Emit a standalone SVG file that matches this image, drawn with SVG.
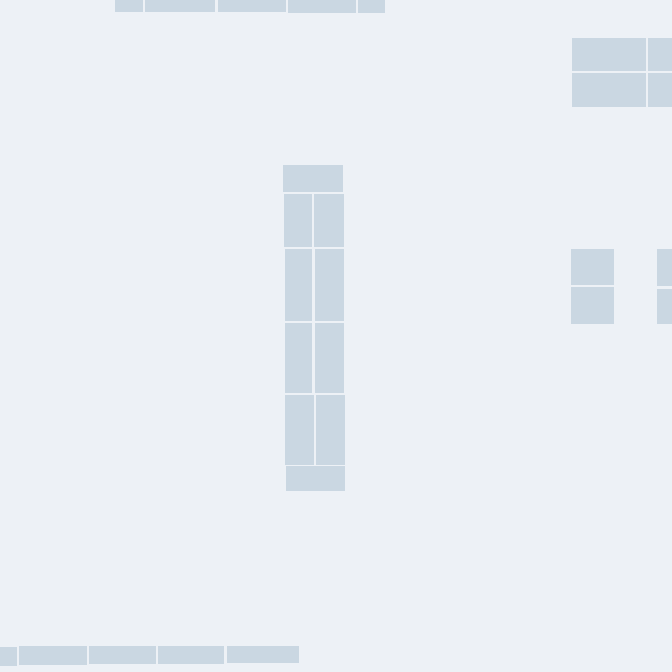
<svg xmlns="http://www.w3.org/2000/svg" width="672" height="672" viewBox="0 0 672 672">
<style>
.bg{fill:#edf1f6}
.d{fill:#cad7e2}
</style>
<rect class="bg" x="0" y="0" width="672" height="672"/>
<g id="top-row">
<rect class="d" x="115" y="0" width="28" height="12"/>
<rect class="d" x="145" y="0" width="70" height="12"/>
<rect class="d" x="218" y="0" width="68" height="12"/>
<rect class="d" x="288" y="0" width="68" height="13"/>
<rect class="d" x="358" y="0" width="27" height="13"/>
</g>
<g id="top-right">
<rect class="d" x="572" y="38" width="74" height="33"/>
<rect class="d" x="648" y="38" width="24" height="33"/>
<rect class="d" x="572" y="73" width="74" height="34"/>
<rect class="d" x="648" y="73" width="24" height="34"/>
</g>
<g id="center-column">
<rect class="d" x="283" y="165" width="60" height="27"/>
<rect class="d" x="284" y="194" width="28" height="53"/>
<rect class="d" x="314" y="194" width="30" height="53"/>
<rect class="d" x="285" y="249" width="27" height="72"/>
<rect class="d" x="315" y="249" width="29" height="72"/>
<rect class="d" x="285" y="323" width="27" height="70"/>
<rect class="d" x="315" y="323" width="29" height="70"/>
<rect class="d" x="285" y="395" width="29" height="70"/>
<rect class="d" x="316" y="395" width="29" height="70"/>
<rect class="d" x="286" y="466" width="59" height="25"/>
</g>
<g id="right-middle">
<rect class="d" x="571" y="249" width="43" height="36"/>
<rect class="d" x="571" y="287" width="43" height="37"/>
<rect class="d" x="657" y="249" width="15" height="37"/>
<rect class="d" x="657" y="289" width="15" height="35"/>
</g>
<g id="bottom-row">
<rect class="d" x="0" y="647" width="17" height="19"/>
<rect class="d" x="19" y="646" width="68" height="19"/>
<rect class="d" x="89" y="646" width="67" height="18"/>
<rect class="d" x="158" y="646" width="66" height="18"/>
<rect class="d" x="227" y="646" width="72" height="17"/>
</g>
</svg>
